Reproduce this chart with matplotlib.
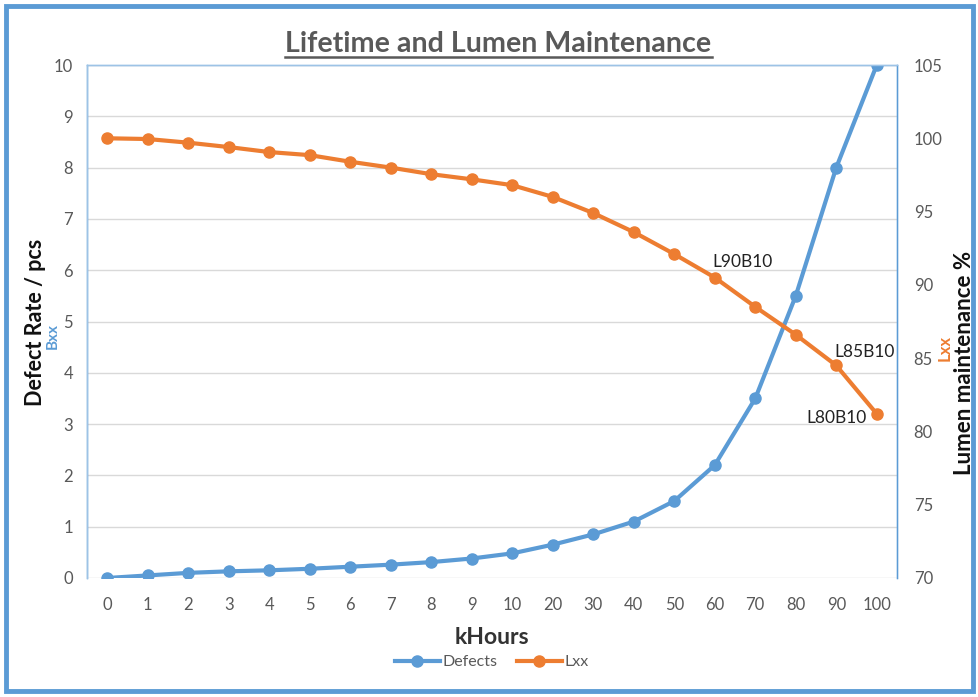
import matplotlib
matplotlib.use("Agg")
import matplotlib.pyplot as plt
from matplotlib.patches import Rectangle
import numpy as np

categories = ["0", "1", "2", "3", "4", "5", "6", "7", "8", "9", "10",
              "20", "30", "40", "50", "60", "70", "80", "90", "100"]
defects = [0.0, 0.05, 0.1, 0.13, 0.15, 0.18, 0.22, 0.26, 0.31, 0.38, 0.48,
           0.65, 0.85, 1.1, 1.5, 2.2, 3.5, 5.5, 8.0, 10.0]
lxx = [100.0, 99.95, 99.7, 99.4, 99.06, 98.85, 98.4, 98.0, 97.55, 97.2, 96.8,
       96.0, 94.9, 93.6, 92.1, 90.5, 88.5, 86.6, 84.5, 81.2]
annotations = {15: "L90B10", 18: "L85B10", 19: "L80B10"}

plt.rcParams['font.family'] = ['Lato', 'DejaVu Sans']
BLUE = "#5B9BD5"
ORANGE = "#ED7D31"
GRAY = "#595959"

fig = plt.figure(figsize=(9.79, 6.97), dpi=100)
W, H = 979, 697
ax = fig.add_axes([87 / W, 1 - 578 / H, (897 - 87) / W, (578 - 65) / H])
ax2 = ax.twinx()

x = np.arange(len(categories))
ax.plot(x, defects, color=BLUE, lw=3, marker='o', ms=8, label="Defects", zorder=3)
ax2.plot(x, lxx, color=ORANGE, lw=3, marker='o', ms=8, label="Lxx", zorder=3)

ax.set_xlim(-0.5, len(categories) - 0.5)
ax.set_ylim(0, 10)
ax.set_yticks(range(0, 11))
ax2.set_ylim(70, 105)
ax2.set_yticks(range(70, 106, 5))
ax.set_xticks(x)
ax.set_xticklabels(categories)
ax.grid(axis='y', color="#D9D9D9", lw=1)
ax.set_axisbelow(True)
ax.tick_params(axis='both', length=0, colors=GRAY, labelsize=12, pad=10)
ax2.tick_params(axis='y', length=0, colors=GRAY, labelsize=12, pad=12)
ax.tick_params(axis='x', pad=14)
for a in (ax, ax2):
    for s in a.spines.values():
        s.set_color("#9DC3E6")
        s.set_linewidth(1)
    a.spines['bottom'].set_visible(False)
ax.spines['left'].set_color(BLUE)
ax2.spines['right'].set_color(BLUE)

for i, txt in annotations.items():
    if i == 15:
        ax2.annotate(txt, (x[i], lxx[i]), xytext=(-2, 11), textcoords='offset points',
                     fontsize=12.5, color="#222222", ha='left', va='center')
    elif i == 18:
        ax2.annotate(txt, (x[i], lxx[i]), xytext=(-1, 10), textcoords='offset points',
                     fontsize=12.5, color="#222222", ha='left', va='center')
    else:
        ax2.annotate(txt, (x[i], lxx[i]), xytext=(-7, -3), textcoords='offset points',
                     fontsize=12.5, color="#222222", ha='right', va='center')

cx = 0.5 * (285 + 712) / W
title = fig.text(cx, 1 - 44 / H, "Lifetime and Lumen Maintenance",
                 ha='center', va='center', fontsize=18, fontweight='bold', color=GRAY)
fig.canvas.draw()
bb = title.get_window_extent()
title.set_fontsize(18 * 427 / bb.width)
fig.canvas.draw()
bb = title.get_window_extent()
fig.add_artist(plt.Line2D([bb.x0 / W, bb.x1 / W], [1 - 57 / H, 1 - 57 / H], color=GRAY, lw=1.8))

fig.text(36 / W, 1 - 322 / H, "Defect Rate / pcs", rotation=90, ha='center', va='center',
         fontsize=15.5, fontweight='bold', color="#111111")
fig.text(53 / W, 1 - 336 / H, "Bxx", rotation=90, ha='center', va='center',
         fontsize=11, fontweight='bold', color=BLUE)
fig.text(965 / W, 1 - 363 / H, "Lumen maintenance %", rotation=90, ha='center', va='center',
         fontsize=16, fontweight='bold', color="#111111")
fig.text(945 / W, 1 - 348 / H, "Lxx", rotation=90, ha='center', va='center',
         fontsize=12, fontweight='bold', color=ORANGE)
fig.text(0.5 * (87 + 897) / W, 1 - 638 / H, "kHours", ha='center', va='center',
         fontsize=16.5, fontweight='bold', color="#333333")

h1, l1 = ax.get_legend_handles_labels()
h2, l2 = ax2.get_legend_handles_labels()
fig.legend(h1 + h2, l1 + l2, loc='center', bbox_to_anchor=(0.5 * (87 + 897) / W, 1 - 662 / H),
           ncol=2, frameon=False, fontsize=11.5, labelcolor=GRAY, handlelength=2.8,
           columnspacing=1.2, handletextpad=0.2)

fig.add_artist(Rectangle((6 / W, 6 / H), (W - 12) / W, (H - 12) / H, transform=fig.transFigure,
                         fill=False, edgecolor=BLUE, lw=3.5))

fig.savefig("out.png", dpi=100)
